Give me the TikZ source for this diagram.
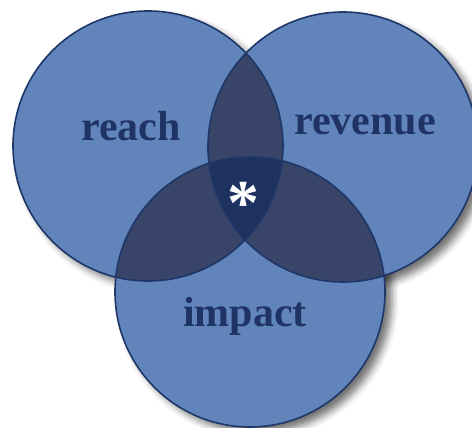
\documentclass[tikz,border=0pt]{standalone}
\usepackage{fontspec}
\setmainfont{Liberation Serif}
\usetikzlibrary{shadows.blur}
\definecolor{ringfill}{HTML}{6184BA}
\definecolor{pairfill}{HTML}{384468}
\definecolor{corefill}{HTML}{1D325F}
\definecolor{ringline}{HTML}{1E3668}
\definecolor{wordtext}{HTML}{1F3464}
\begin{document}
\begin{tikzpicture}[x=1pt,y=-1pt,
	ring/.style={fill=ringfill},
	ringedge/.style={draw=ringline,line width=1.6pt},
	word/.style={text=wordtext,font=\fontsize{42}{50}\selectfont\bfseries,anchor=base,inner sep=0pt}]
	\useasboundingbox (0,0) rectangle (472,428);
	\coordinate (reachc) at (148,146);
	\coordinate (revenuec) at (343,147);
	\coordinate (impactc) at (250,292);
	\foreach \c in {reachc,revenuec,impactc}
		\fill[ring,blur shadow={shadow xshift=7pt,shadow yshift=-6pt,shadow blur radius=7pt,shadow opacity=55}] (\c) circle (135pt);
	\foreach \c in {reachc,revenuec,impactc}
		\fill[ring] (\c) circle (135pt);
	\begin{scope}
		\clip (reachc) circle (135pt);
		\fill[pairfill] (revenuec) circle (135pt);
		\fill[pairfill] (impactc) circle (135pt);
	\end{scope}
	\begin{scope}
		\clip (revenuec) circle (135pt);
		\fill[pairfill] (impactc) circle (135pt);
	\end{scope}
	\begin{scope}
		\clip (reachc) circle (135pt);
		\clip (revenuec) circle (135pt);
		\fill[corefill] (impactc) circle (135pt);
	\end{scope}
	\foreach \c in {reachc,revenuec,impactc}
		\draw[ringedge] (\c) circle (135pt);
	\node[word] (reach) at (131,140) {reach};
	\node[word] (revenue) at (365,135) {revenue};
	\node[word] (impact) at (245,326) {impact};
	\node[word,text=white,font=\fontsize{64}{70}\selectfont\bfseries] (core) at (243,225) {*};
\end{tikzpicture}
\end{document}
